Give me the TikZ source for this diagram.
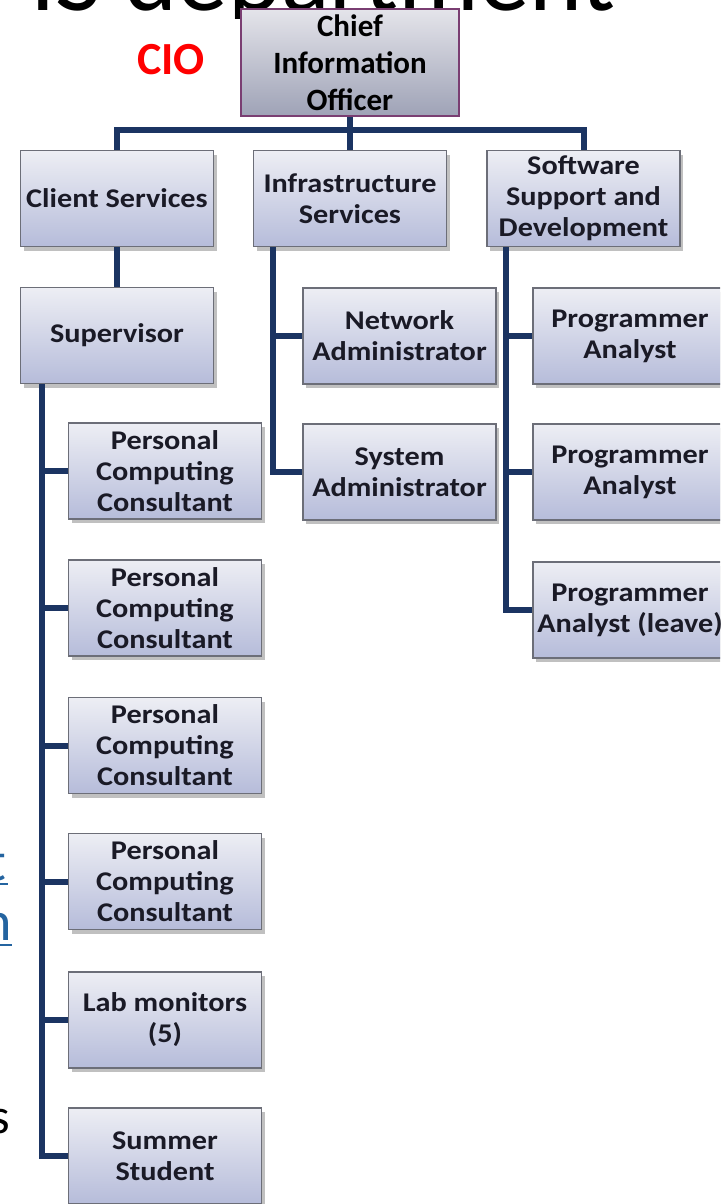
\documentclass[tikz,border=0pt]{standalone}
\usepackage{fontspec}
\usetikzlibrary{shadows}
% chart labels are set slightly wide, like the stretched org chart
\newfontfamily\chartfont[FakeStretch=1.12]{Carlito}
\newfontfamily\slidefont{Carlito}

\definecolor{linknavy}{HTML}{1B3462}
\definecolor{boxedge}{HTML}{6C6E78}
\definecolor{boxtop}{HTML}{EDEEF4}
\definecolor{boxbot}{HTML}{B6BCDA}
\definecolor{boxtext}{HTML}{1A1A26}
\definecolor{ciotop}{HTML}{E4E4EA}
\definecolor{ciobot}{HTML}{9EA2B6}
\definecolor{cioedge}{HTML}{7A3E72}
\definecolor{hyperblue}{HTML}{2464A0}

\tikzset{
  orgbox/.style={draw=boxedge, line width=1.5pt, top color=boxtop, bottom color=boxbot,
    minimum width=193pt, minimum height=96pt, inner sep=0pt, align=center, text=boxtext,
    font=\chartfont\bfseries\fontsize{27}{31}\selectfont,
    drop shadow={shadow xshift=3pt, shadow yshift=-4pt, opacity=0.35, fill=black!70}},
  ciobox/.style={draw=cioedge, line width=2pt, top color=ciotop, bottom color=ciobot,
    minimum width=218pt, minimum height=107pt, inner sep=0pt, align=center, text=black,
    font=\slidefont\bfseries\fontsize{31}{37}\selectfont},
  conn/.style={draw=linknavy, line width=6pt, line join=miter},
  fragment/.style={inner sep=0pt, font=\slidefont\fontsize{56}{60}\selectfont}
}

\begin{document}
\begin{tikzpicture}[x=1pt, y=-1pt]
\useasboundingbox (0,0) rectangle (720,1204);
\fill[white] (0,0) rectangle (720,1204);
\clip (0,0) rectangle (720,1204);

% slide title, mostly above the page
\begin{scope}
  \clip (0,0) rectangle (720,19);
  \node[anchor=base west, inner sep=0pt, font=\slidefont\fontsize{101}{110}\selectfont]
    (title) at (30,11) {IS department};
\end{scope}

% slide body text, mostly hidden behind the chart
\node[fragment, text=hyperblue, anchor=base east] (linkA) at (6,880) {t};
\node[fragment, text=hyperblue, anchor=base east] (linkB) at (12,940) {n};
\draw[hyperblue, line width=2.5pt] (0,884) -- (8,884);
\draw[hyperblue, line width=2.5pt] (0,945) -- (linkB.base east |- 0,945);
\node[fragment, text=black, anchor=base east, font=\slidefont\fontsize{50}{60}\selectfont]
  (bodyS) at (10,1133) {s};

% red tag beside the top box
\node[text=red, font=\slidefont\bfseries\fontsize{46}{50}\selectfont] (tag) at (171,60) {CIO};

% boxes
\node[ciobox] (cio) at (350,63) {Chief\\Information\\Officer};

\node[orgbox] (cs)  at (117,198.5) {Client Services};
\node[orgbox] (inf) at (350,198.5) {Infrastructure\\Services};
\node[orgbox] (sw)  at (583.5,198.5) {Software\\Support and\\Development};

\node[orgbox] (sup) at (117,335.5) {Supervisor};

\node[orgbox] (na) at (399.5,336) {Network\\Administrator};
\node[orgbox] (sa) at (399.5,472) {System\\Administrator};

\node[orgbox, minimum width=194pt] (pa1) at (630,336) {Programmer\\Analyst};
\node[orgbox, minimum width=194pt] (pa2) at (630,472) {Programmer\\Analyst};
\node[orgbox, minimum width=194pt] (pa3) at (630,610) {Programmer\\Analyst (leave)};

\node[orgbox] (pcc1) at (165,471) {Personal\\Computing\\Consultant};
\node[orgbox] (pcc2) at (165,608) {Personal\\Computing\\Consultant};
\node[orgbox] (pcc3) at (165,745.5) {Personal\\Computing\\Consultant};
\node[orgbox] (pcc4) at (165,881.5) {Personal\\Computing\\Consultant};
\node[orgbox] (lab)  at (165,1020) {Lab monitors\\(5)};
\node[orgbox] (sum)  at (165,1156) {Summer\\Student};

% connectors
\coordinate (bar) at ([yshift=-13pt]cio.south);
\coordinate (lsp) at ([xshift=22pt]sup.south west);
\coordinate (isp) at ([xshift=20pt]inf.south west);
\coordinate (ssp) at ([xshift=20pt]sw.south west);

\draw[conn] (cio.south) -- (bar);
\draw[conn] (cs.north) |- (bar) -| (sw.north);
\draw[conn] (inf.north) -- (bar);
\draw[conn] (cs.south) -- (sup.north);

\draw[conn] (lsp) |- (sum.west);
\draw[conn] (lsp) |- (lab.west);
\draw[conn] (lsp) |- (pcc1.west);
\draw[conn] (lsp) |- (pcc2.west);
\draw[conn] (lsp) |- (pcc3.west);
\draw[conn] (lsp) |- (pcc4.west);

\draw[conn] (isp) |- (sa.west);
\draw[conn] (isp) |- (na.west);

\draw[conn] (ssp) |- (pa3.west);
\draw[conn] (ssp) |- (pa2.west);
\draw[conn] (ssp) |- (pa1.west);
\end{tikzpicture}
\end{document}
